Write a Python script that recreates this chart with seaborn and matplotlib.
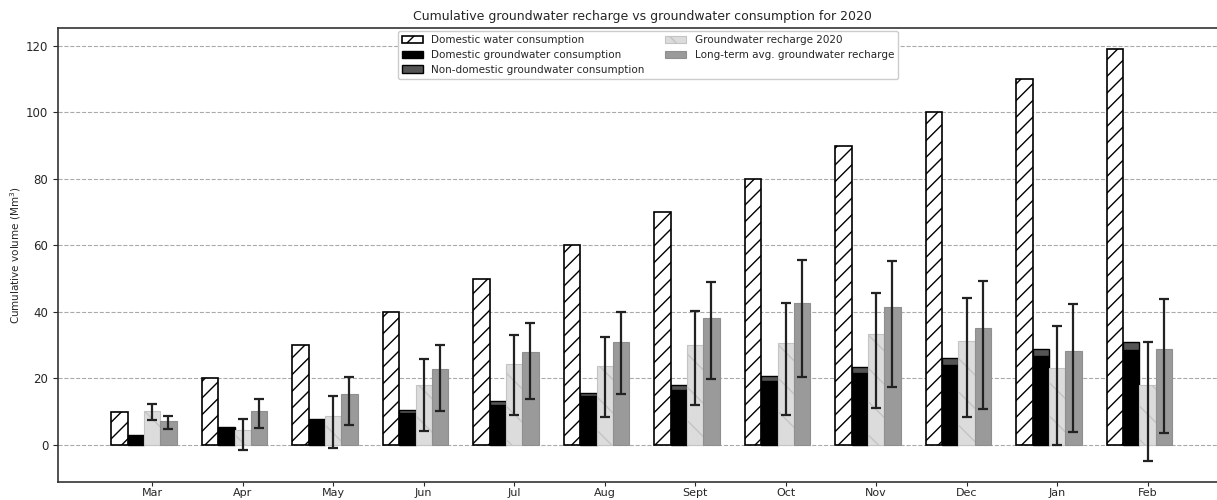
import numpy as np
import matplotlib
matplotlib.use("Agg")
import matplotlib.pyplot as plt
import seaborn as sns

months = ["Mar", "Apr", "May", "Jun", "Jul", "Aug", "Sept", "Oct", "Nov", "Dec", "Jan", "Feb"]
domestic_water = [10, 20, 30, 40, 50, 60, 70, 80, 90, 100, 110, 119]
domestic_gw = [2.7, 5.0, 7.4, 9.6, 12.1, 14.6, 16.6, 19.1, 21.5, 24.0, 26.6, 28.6]
nondomestic_gw = [0.2, 0.3, 0.5, 0.8, 1.0, 1.0, 1.4, 1.7, 2.0, 2.0, 2.1, 2.4]
recharge_2020 = [10.3, 4.4, 8.8, 18.1, 24.3, 23.7, 30.1, 30.5, 33.3, 31.3, 23.0, 18.0]
recharge_2020_low = [7.5, -1.6, -1.0, 4.0, 8.9, 8.4, 12.1, 9.0, 11.0, 8.5, 0.0, -5.0]
recharge_2020_high = [12.3, 7.8, 14.8, 25.7, 32.9, 32.3, 40.4, 42.6, 45.8, 44.3, 35.8, 30.8]
longterm = [7.3, 10.3, 15.2, 22.8, 28.0, 30.8, 38.2, 42.6, 41.5, 35.2, 28.3, 28.9]
longterm_low = [4.7, 5.0, 5.9, 10.2, 13.7, 15.4, 19.9, 20.3, 17.5, 10.7, 3.8, 3.5]
longterm_high = [8.8, 13.8, 20.4, 30.1, 36.6, 40.0, 49.0, 55.5, 55.2, 49.2, 42.3, 43.9]

sns.set_style("white")
plt.rcParams['font.family'] = ['DejaVu Sans']
plt.rcParams['hatch.linewidth'] = 1.0

fig = plt.figure(figsize=(12.17, 5.0), dpi=100)
ax = fig.add_axes([0.0477, 0.036, 0.96, 0.908])

x = np.arange(len(months))
w = 0.18

dw = np.array(domestic_water)
dg = np.array(domestic_gw)
nd = np.array(nondomestic_gw)
r20 = np.array(recharge_2020)
lt = np.array(longterm)

ax.bar(x - 2 * w, dw, w, color="white", edgecolor="black", hatch="//", linewidth=1.2,
       label="Domestic water consumption", zorder=3)
ax.bar(x - w, dg, w, color="black", edgecolor="black", linewidth=1,
       label="Domestic groundwater consumption", zorder=3)
ax.bar(x - w, nd, w, bottom=dg, color="#555555", edgecolor="black", linewidth=1,
       label="Non-domestic groundwater consumption", zorder=3)
ax.bar(x, r20, w, color="#dcdcdc", edgecolor="#c4c4c4", hatch="\\", linewidth=0.8,
       label="Groundwater recharge 2020", zorder=3)
ax.bar(x + w, lt, w, color="#9a9a9a", edgecolor="#8f8f8f", linewidth=0.8,
       label="Long-term avg. groundwater recharge", zorder=3)

r_lo = r20 - np.array(recharge_2020_low)
r_hi = np.array(recharge_2020_high) - r20
ax.errorbar(x, r20, yerr=[r_lo, r_hi], fmt="none", ecolor="#222222", elinewidth=1.6,
            capsize=3.4, capthick=1.6, zorder=4)
l_lo = lt - np.array(longterm_low)
l_hi = np.array(longterm_high) - lt
ax.errorbar(x + w, lt, yerr=[l_lo, l_hi], fmt="none", ecolor="#222222", elinewidth=1.6,
            capsize=3.4, capthick=1.6, zorder=4)

ax.set_xticks(x)
ax.set_xticklabels(months, fontsize=8)
ax.set_yticks(np.arange(0, 121, 20))
ax.tick_params(axis="y", labelsize=8.5, left=True, length=3.5)
ax.tick_params(axis="x", bottom=True, length=3, pad=1.5)
ax.set_xlim(-1.04, 11.87)
ax.set_ylim(-11.2, 125.4)
ax.yaxis.grid(True, linestyle="--", color="#aaaaaa", linewidth=0.8, zorder=0)
ax.set_axisbelow(True)
ax.set_ylabel("Cumulative volume (Mm$^3$)", fontsize=7.5, labelpad=2)
ax.set_title("Cumulative groundwater recharge vs groundwater consumption for 2020", fontsize=9)
for s in ax.spines.values():
    s.set_color("#333333")
    s.set_linewidth(1.2)

ax.legend(loc="upper center", ncol=2, fontsize=7.5, frameon=True, framealpha=1,
          handlelength=2.0, columnspacing=2.0, labelspacing=0.45, borderaxespad=0.3,
          bbox_to_anchor=(0.505, 1.0))

fig.savefig("out.png", dpi=100)
